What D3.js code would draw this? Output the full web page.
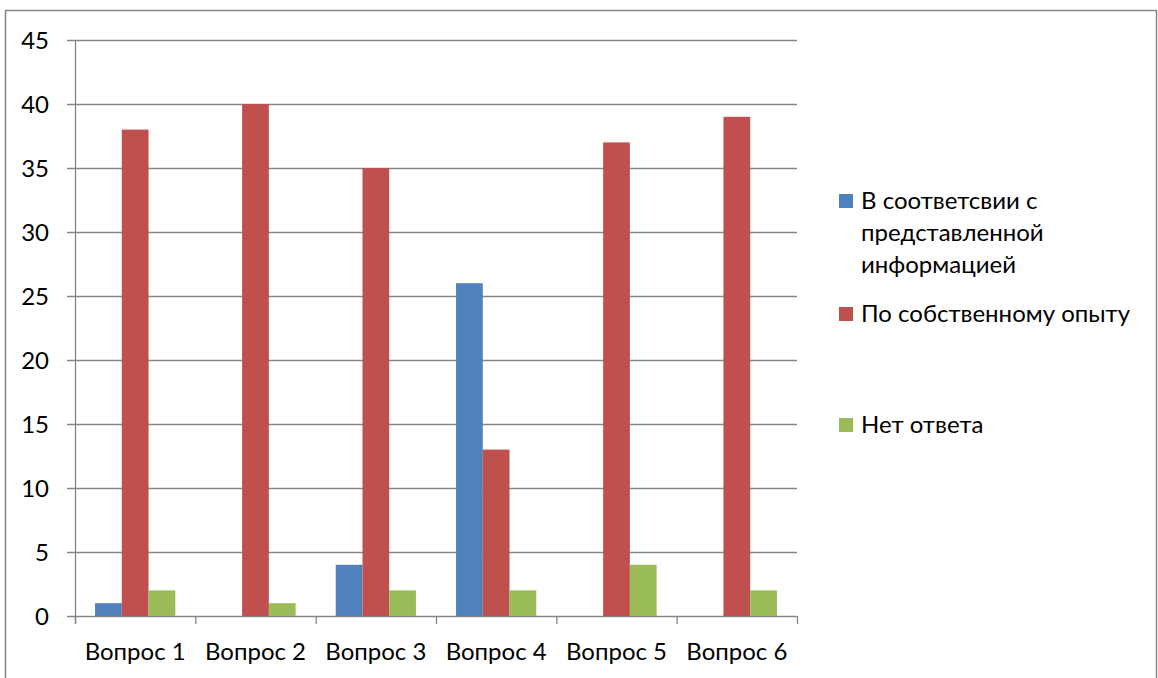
<!DOCTYPE html>
<html lang="ru">
<head>
<meta charset="UTF-8">
<title>Вопросы</title>
<script src="https://d3js.org/d3.v7.min.js"></script>
<style>
  body { margin: 0; background: #fff; }
  svg { display: block; font-family: Lato, "Open Sans", sans-serif; }
  .grid line { stroke: #868686; stroke-width: 1.3px; }
  .lbl { font-size: 24px; fill: #000; }
</style>
</head>
<body>
<svg width="1158" height="678"></svg>
<script>
  const categories = ["Вопрос 1", "Вопрос 2", "Вопрос 3", "Вопрос 4", "Вопрос 5", "Вопрос 6"];
  const seriesNames = ["В соответсвии с представленной информацией", "По собственному опыту", "Нет ответа"];
  const seriesLines = [["В соответсвии с", "представленной", "информацией"], ["По собственному опыту"], ["Нет ответа"]];
  const infoValues = [1, 0, 4, 26, 0, 0];
  const ownValues = [38, 40, 35, 13, 37, 39];
  const noAnswerValues = [2, 1, 2, 2, 4, 2];
  const yTicks = [0, 5, 10, 15, 20, 25, 30, 35, 40, 45];
  const colors = ["#4F81BD", "#C0504D", "#9BBB59"];

  const series = [infoValues, ownValues, noAnswerValues];

  const svg = d3.select("svg");

  // chart border
  svg.append("rect")
    .attr("x", 5.5).attr("y", 10.5)
    .attr("width", 1151).attr("height", 700)
    .attr("fill", "none").attr("stroke", "#868686").attr("stroke-width", 1.5);

  const plotL = 75, plotR = 797, plotT = 40, plotB = 616;

  const x = d3.scaleBand().domain(categories).range([plotL, plotR]);
  // Excel gap width 150%: 3 bars + 1.5 bar widths of gap per category
  const barW = x.bandwidth() / 4.5;
  const y = d3.scaleLinear().domain([0, 45]).range([plotB, plotT]);

  // gridlines + y ticks
  const grid = svg.append("g").attr("class", "grid");
  grid.selectAll("line")
    .data(yTicks)
    .join("line")
    .attr("x1", plotL - 8).attr("x2", plotR)
    .attr("y1", d => y(d) + 0.5).attr("y2", d => y(d) + 0.5);

  svg.selectAll(".ylbl")
    .data(yTicks)
    .join("text")
    .attr("class", "lbl ylbl")
    .attr("x", 49)
    .attr("y", d => y(d))
    .attr("dy", "0.36em")
    .attr("text-anchor", "end")
    .text(d => d);

  // bars
  const groups = svg.selectAll(".series")
    .data(series)
    .join("g")
    .attr("class", "series")
    .attr("fill", (d, i) => colors[i]);

  groups.each(function(vals, si) {
    d3.select(this).selectAll("rect")
      .data(vals.map((v, ci) => ({ v, c: categories[ci] })))
      .join("rect")
      .attr("x", d => x(d.c) + barW * 0.75 + si * barW)
      .attr("width", barW)
      .attr("y", d => y(d.v))
      .attr("height", d => y(0) - y(d.v));
  });

  // y axis line
  svg.append("line")
    .attr("x1", plotL + 0.5).attr("x2", plotL + 0.5)
    .attr("y1", plotT).attr("y2", plotB + 8)
    .attr("stroke", "#868686").attr("stroke-width", 1.3);

  // x axis ticks at category boundaries
  const bounds = categories.map(c => x(c)).concat([plotR]);
  svg.selectAll(".xtick")
    .data(bounds)
    .join("line")
    .attr("class", "xtick")
    .attr("x1", d => d + 0.5).attr("x2", d => d + 0.5)
    .attr("y1", plotB).attr("y2", plotB + 8)
    .attr("stroke", "#868686").attr("stroke-width", 1.3);

  svg.selectAll(".xlbl")
    .data(categories)
    .join("text")
    .attr("class", "lbl xlbl")
    .attr("x", d => x(d) + x.bandwidth() / 2)
    .attr("y", 660)
    .attr("text-anchor", "middle")
    .text(d => d);

  // legend
  const legendTop = [194, 307, 418];
  const legend = svg.selectAll(".leg")
    .data(seriesNames)
    .join("g")
    .attr("class", "leg")
    .attr("transform", (d, i) => `translate(839,${legendTop[i]})`);

  legend.append("rect")
    .attr("width", 14).attr("height", 14)
    .attr("fill", (d, i) => colors[i]);

  legend.append("text")
    .attr("class", "lbl")
    .attr("x", 22)
    .selectAll("tspan")
    .data((d, i) => seriesLines[i])
    .join("tspan")
    .attr("x", 22)
    .attr("y", (d, j) => 15 + j * 32)
    .text(d => d);
</script>
</body>
</html>
